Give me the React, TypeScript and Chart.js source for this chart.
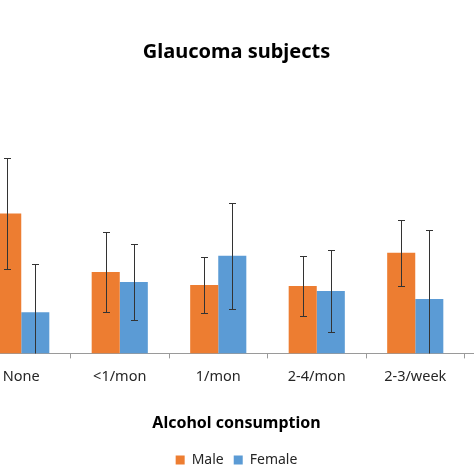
import React, { useEffect, useRef } from "react";
import { Chart, registerables } from "chart.js";

Chart.register(...registerables);

const categories = ["None", "<1/mon", "1/mon", "2-4/mon", "2-3/week", "≥4/week"];
const maleValues: (number | null)[] = [13.9, 8.1, 6.8, 6.7, 10.0, null];
const maleErrors: (number | null)[] = [5.5, 4.0, 2.75, 3.0, 3.3, null];
const femaleValues: (number | null)[] = [4.1, 7.1, 9.7, 6.2, 5.4, null];
const femaleErrors: (number | null)[] = [4.8, 3.8, 5.3, 4.1, 6.9, null];
const yMin = 0;
const yMax = 25;

const FONT = "'Noto Sans', sans-serif";

const errorBarPlugin = {
  id: "errorBars",
  afterDatasetsDraw(chart: any) {
    const ctx = chart.ctx;
    const yScale = chart.scales.y;
    const area = chart.chartArea;
    ctx.save();
    ctx.beginPath();
    ctx.rect(area.left, area.top, area.right - area.left, area.bottom - area.top);
    ctx.clip();
    ctx.strokeStyle = "#333333";
    ctx.lineWidth = 1;
    chart.data.datasets.forEach((ds: any, di: number) => {
      const meta = chart.getDatasetMeta(di);
      const errs: (number | null)[] = ds.errors;
      meta.data.forEach((bar: any, i: number) => {
        const v = ds.data[i];
        const e = errs[i];
        if (v == null || e == null) return;
        const x = Math.round(bar.x) + 0.5;
        const yTop = Math.round(yScale.getPixelForValue(v + e)) + 0.5;
        const yBot = Math.round(yScale.getPixelForValue(v - e)) + 0.5;
        const cap = 3.5;
        ctx.beginPath();
        ctx.moveTo(x, yTop);
        ctx.lineTo(x, yBot);
        ctx.moveTo(x - cap, yTop);
        ctx.lineTo(x + cap, yTop);
        ctx.moveTo(x - cap, yBot);
        ctx.lineTo(x + cap, yBot);
        ctx.stroke();
      });
    });
    ctx.restore();
  },
};

export default function App() {
  const ref = useRef<HTMLCanvasElement | null>(null);
  useEffect(() => {
    if (!ref.current) return;
    const chart = new Chart(ref.current, {
      type: "bar",
      data: {
        labels: categories,
        datasets: [
          {
            label: "Male",
            data: maleValues,
            errors: maleErrors,
            backgroundColor: "#ED7D31",
            borderWidth: 0,
          } as any,
          {
            label: "Female",
            data: femaleValues,
            errors: femaleErrors,
            backgroundColor: "#5B9BD5",
            borderWidth: 0,
          } as any,
        ],
      },
      options: {
        animation: false,
        responsive: false,
        layout: { padding: 0 },
        datasets: { bar: { categoryPercentage: 0.57, barPercentage: 1.0 } },
        scales: {
          x: {
            offset: true,
            grid: {
              offset: true,
              drawOnChartArea: false,
              drawTicks: true,
              tickLength: 5,
              color: "#9a9a9a",
            },
            border: { color: "#9a9a9a", width: 1 },
            ticks: {
              color: "#262626",
              padding: 10,
              maxRotation: 0,
              autoSkip: false,
              font: { family: FONT, size: 14.5 },
            },
          },
          y: {
            display: true,
            min: yMin,
            max: yMax,
            ticks: { display: false },
            grid: { display: false, drawTicks: false },
            border: { display: false },
            afterFit: (scale: any) => {
              scale.width = 62;
            },
          },
        },
        plugins: {
          title: {
            display: true,
            text: "Glaucoma subjects",
            color: "#000000",
            font: { family: FONT, size: 20, weight: "bold" },
            padding: { top: 40, bottom: 38 },
          },
          subtitle: {
            display: true,
            position: "bottom",
            weight: 500,
            text: "Alcohol consumption",
            color: "#000000",
            font: { family: FONT, size: 16, weight: "bold" },
            padding: { top: 18, bottom: 10 },
          } as any,
          legend: {
            position: "bottom",
            labels: {
              boxWidth: 9,
              boxHeight: 9,
              padding: 10,
              color: "#262626",
              font: { family: FONT, size: 14 },
            },
          },
          tooltip: { enabled: false },
        },
      } as any,
      plugins: [errorBarPlugin],
    });
    return () => chart.destroy();
  }, []);

  return (
    <div
      style={{
        position: "fixed",
        left: 0,
        top: 0,
        width: 474,
        height: 474,
        overflow: "hidden",
        background: "#ffffff",
      }}
    >
      <canvas
        ref={ref}
        width={653}
        height={477}
        style={{ position: "absolute", left: -90, top: 0, width: 653, height: 477 }}
      />
    </div>
  );
}
